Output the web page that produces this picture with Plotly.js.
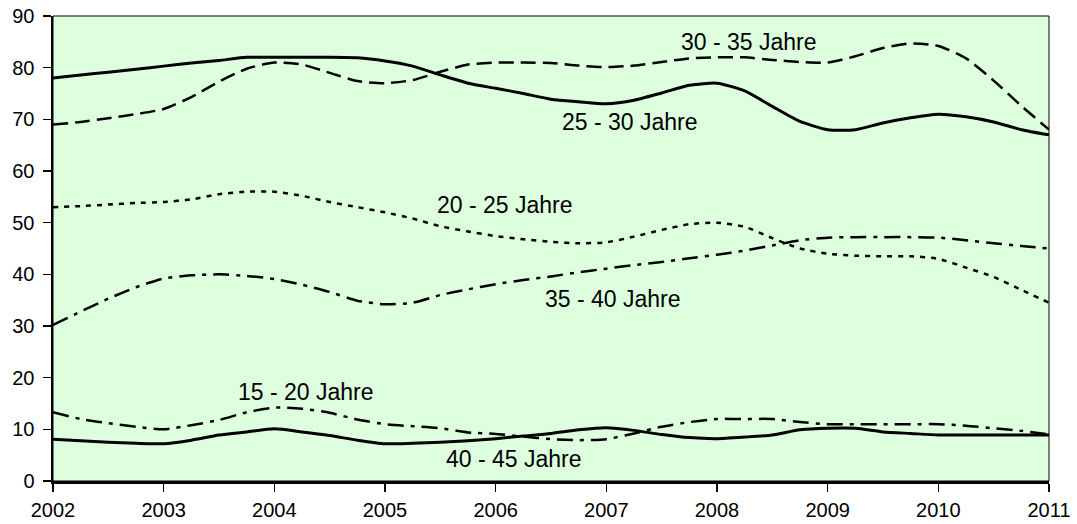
<!DOCTYPE html>
<html>
<head>
<meta charset="utf-8">
<script src="https://cdn.plot.ly/plotly-3.0.1.min.js"></script>
<style>
html,body{margin:0;padding:0;background:#ffffff;}
#chart{width:1077px;height:524px;}
</style>
</head>
<body>
<div id="chart"></div>
<script>
// Shared x positions (years, quarterly readings)
const years = [2002,2002.25,2002.5,2002.75,2003,2003.25,2003.5,2003.75,2004,2004.25,2004.5,2004.75,
  2005,2005.25,2005.5,2005.75,2006,2006.25,2006.5,2006.75,2007,2007.25,2007.5,2007.75,
  2008,2008.25,2008.5,2008.75,2009,2009.25,2009.5,2009.75,2010,2010.25,2010.5,2010.75,2011];

const age25_30 = [78,78.6,79.1,79.7,80.3,80.9,81.4,82,82,82,82,81.9,
  81.3,80.3,78.6,77,76,75,73.9,73.4,73,73.7,75.1,76.6,
  77,75.5,72.5,69.6,68,68,69.3,70.3,71,70.5,69.5,68,67];

const age30_35 = [69,69.5,70.2,71,72,74.3,77.3,79.8,81,80.6,79,77.4,
  77,77.6,79.2,80.6,81,81,80.9,80.4,80.1,80.4,81.1,81.8,
  82,82,81.5,81.1,81,82.2,83.8,84.7,84.2,81.8,77.5,72.6,68];

const age20_25 = [53,53.2,53.5,53.8,54,54.5,55.5,56,56,55.2,54,53,
  52,50.8,49.3,48.3,47.4,46.8,46.3,46,46.2,47.3,48.6,49.7,
  50,49.2,47,45,44,43.6,43.5,43.5,43,41.3,39.5,37,34.5];

const age35_40 = [30.2,32.8,35.3,37.5,39.2,39.8,40,39.7,39.1,38,36.6,34.9,
  34.2,34.5,36,37.1,38.1,38.9,39.6,40.4,41.1,41.8,42.4,43.1,
  43.8,44.6,45.6,46.6,47.1,47.2,47.2,47.2,47.1,46.6,46,45.5,45];

const age15_20 = [13.3,12,11.2,10.5,10,10.8,11.8,13.3,14.2,14,13.2,11.9,
  11,10.6,10.2,9.4,9.1,8.6,8.1,7.9,8.1,9.2,10.5,11.4,
  12,12,12,11.4,11,11,11,11,11,10.7,10.2,9.7,9];

const age40_45 = [8.1,7.8,7.5,7.3,7.2,7.9,8.9,9.5,10.1,9.5,8.8,7.9,
  7.2,7.3,7.5,7.8,8.2,8.7,9.2,9.9,10.3,9.8,9,8.4,
  8.2,8.5,8.9,9.9,10.2,10.2,9.5,9.2,8.9,8.9,8.9,8.9,8.9];

const seriesNames = ["25 - 30 Jahre","30 - 35 Jahre","20 - 25 Jahre","35 - 40 Jahre","15 - 20 Jahre","40 - 45 Jahre"];
const xTickVals = [2002,2003,2004,2005,2006,2007,2008,2009,2010,2011];
const xTickText = ["2002","2003","2004","2005","2006","2007","2008","2009","2010","2011"];
const yTickVals = [0,10,20,30,40,50,60,70,80,90];

// Label anchor positions (year, value) for each series name
const labelX = [2007.21, 2008.29, 2006.08, 2007.06, 2004.29, 2006.17];
const labelY = [69.5, 85.0, 53.4, 35.2, 17.2, 4.3];

const values = [age25_30, age30_35, age20_25, age35_40, age15_20, age40_45];
const styles = [
  {width:3, dash:'solid'},
  {width:2.5, dash:'15px,7px'},
  {width:2.5, dash:'5px,6px'},
  {width:2.5, dash:'16px,7px,4px,7px'},
  {width:2.5, dash:'16px,7px,4px,7px'},
  {width:3, dash:'solid'}
];

const traces = values.map((v,i)=>({
  x: years, y: v, type:'scatter', mode:'lines', name: seriesNames[i],
  line:{color:'#000000', width:styles[i].width, dash:styles[i].dash, shape:'spline', smoothing:0.6},
  hoverinfo:'skip', cliponaxis:true
}));

const font = 'Liberation Sans, Arial, sans-serif';

const annotations = seriesNames.map((n,i)=>({
  x: labelX[i], y: labelY[i], xref:'x', yref:'y', text:n, showarrow:false,
  font:{family:font, size:23, color:'#000000'}, xanchor:'center', yanchor:'middle'
}));

const layout = {
  width:1077, height:524,
  margin:{l:53, r:28, t:16, b:43, pad:0},
  paper_bgcolor:'#ffffff', plot_bgcolor:'#DEFFDE',
  showlegend:false,
  font:{family:font, size:20, color:'#000000'},
  xaxis:{
    range:[2002,2011], tickvals:xTickVals, ticktext:xTickText,
    showgrid:false, zeroline:false, showline:true, linecolor:'#000000', linewidth:2.5,
    ticks:'outside', ticklen:8, tickwidth:1.5, tickcolor:'#000000',
    tickfont:{family:font, size:20, color:'#000000'}, ticklabelstandoff:1
  },
  yaxis:{
    range:[0,90], tickvals:yTickVals,
    showgrid:false, zeroline:false, showline:true, linecolor:'#000000', linewidth:2.5,
    ticks:'outside', ticklen:8, tickwidth:1.5, tickcolor:'#000000',
    tickfont:{family:font, size:20, color:'#000000'}, ticklabelstandoff:4
  },
  shapes:[{type:'rect', xref:'paper', yref:'paper', x0:0, x1:1, y0:0, y1:1,
    line:{color:'#000000', width:1}, fillcolor:'rgba(0,0,0,0)', layer:'above'}],
  annotations: annotations
};

Plotly.newPlot('chart', traces, layout, {staticPlot:true, displayModeBar:false});
</script>
</body>
</html>
